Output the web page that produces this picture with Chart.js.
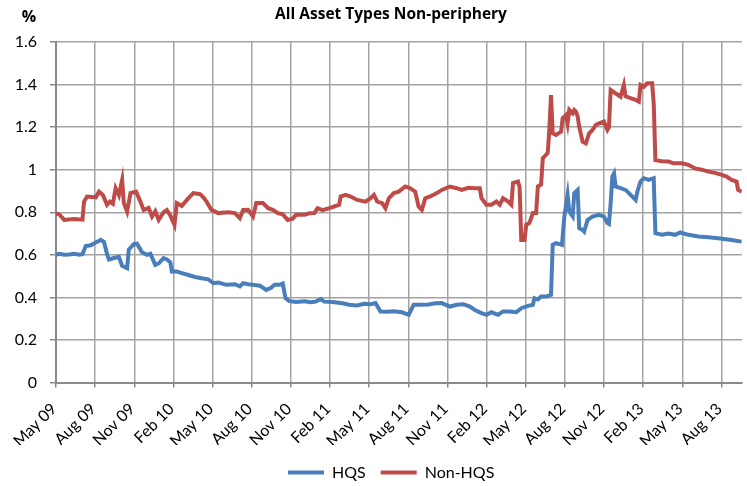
<!DOCTYPE html>
<html>
<head>
<meta charset="utf-8">
<script src="https://cdn.jsdelivr.net/npm/chart.js@4/dist/chart.umd.min.js"></script>
<style>
html,body{margin:0;padding:0;background:#ffffff;}
#wrap{position:relative;width:747px;height:486px;}
</style>
</head>
<body>
<div id="wrap"><canvas id="c"></canvas></div>
<script>
const chartTitle = 'All Asset Types Non-periphery';
const unitLabel = '%';
const seriesNames = ['HQS', 'Non-HQS'];

// x positions are months elapsed since the start of May 2009
const xTickMonths = [0,3,6,9,12,15,18,21,24,27,30,33,36,39,42,45,48,51];
const xTickLabels = ['May 09','Aug 09','Nov 09','Feb 10','May 10','Aug 10','Nov 10','Feb 11','May 11','Aug 11','Nov 11','Feb 12','May 12','Aug 12','Nov 12','Feb 13','May 13','Aug 13'];
const yTickValues = [0,0.2,0.4,0.6,0.8,1.0,1.2,1.4,1.6];
const yTickLabels = ['0','0.2','0.4','0.6','0.8','1','1.2','1.4','1.6'];

const hqsMonths = [0,0.25,0.63,1.01,1.39,1.77,2.03,2.28,2.66,3.05,3.43,3.68,3.93,4.06,4.44,4.82,5.07,5.45,5.58,5.96,6.21,6.59,6.97,7.23,7.61,7.87,8.25,8.50,8.76,8.88,9.26,9.64,10.15,10.66,11.16,11.67,12.05,12.43,13.07,13.71,14.09,14.34,14.72,15.23,15.63,16.11,16.49,16.75,17.13,17.38,17.59,17.89,18.40,19.04,19.54,19.90,20.30,20.56,21.19,21.95,22.46,23.09,23.60,24.11,24.49,24.87,25.38,25.89,26.52,27.03,27.41,27.79,28.55,29.06,29.57,30.20,30.71,31.22,31.72,32.10,32.61,32.99,33.37,33.88,34.26,34.77,35.28,35.66,36.17,36.55,36.67,36.93,37.18,37.56,37.94,38.07,38.32,38.78,38.96,39.21,39.34,39.60,39.72,39.98,40.10,40.36,40.48,40.74,41.12,41.62,42.00,42.26,42.38,42.51,42.64,42.77,42.89,43.27,43.65,43.91,44.29,44.42,44.57,44.80,45.05,45.43,45.81,45.94,46.45,46.95,47.46,47.84,48.47,49.23,50.00,50.76,51.78,52.56];
const hqsValues = [0.600,0.605,0.600,0.602,0.605,0.600,0.603,0.641,0.645,0.658,0.670,0.660,0.600,0.578,0.585,0.590,0.548,0.537,0.625,0.650,0.652,0.612,0.600,0.605,0.553,0.560,0.584,0.578,0.565,0.521,0.521,0.514,0.505,0.496,0.490,0.485,0.467,0.470,0.459,0.462,0.452,0.467,0.462,0.458,0.455,0.435,0.445,0.459,0.459,0.465,0.396,0.382,0.378,0.382,0.377,0.380,0.392,0.380,0.378,0.372,0.365,0.362,0.370,0.368,0.373,0.334,0.333,0.335,0.330,0.318,0.365,0.365,0.367,0.372,0.373,0.357,0.365,0.368,0.357,0.341,0.326,0.318,0.330,0.318,0.334,0.334,0.330,0.349,0.360,0.365,0.396,0.390,0.404,0.404,0.412,0.647,0.655,0.647,0.780,0.882,0.803,0.780,0.890,0.905,0.725,0.717,0.709,0.764,0.780,0.788,0.780,0.749,0.745,0.843,0.968,0.983,0.921,0.913,0.905,0.890,0.866,0.858,0.900,0.944,0.960,0.952,0.960,0.702,0.694,0.700,0.694,0.705,0.694,0.686,0.682,0.678,0.670,0.662];

const nonHqsMonths = [0,0.25,0.63,1.39,2.03,2.15,2.38,3.05,3.30,3.60,3.91,4.13,4.36,4.57,4.82,5.07,5.20,5.45,5.71,6.14,6.47,6.72,7.10,7.36,7.61,7.87,8.25,8.50,8.76,9.08,9.26,9.64,10.15,10.53,11.04,11.29,11.54,11.92,12.43,13.20,13.71,14.09,14.34,14.72,15.10,15.35,15.86,16.24,16.62,17.00,17.38,17.76,18.14,18.40,19.04,19.42,19.80,20.05,20.43,20.94,21.32,21.70,21.82,22.20,22.58,23.09,23.73,24.11,24.37,24.62,25.00,25.25,25.51,25.89,26.27,26.77,27.15,27.53,27.79,28.04,28.30,28.68,29.19,29.57,30.20,30.71,31.09,31.60,32.10,32.48,32.61,32.99,33.37,33.75,34.01,34.26,34.65,34.90,35.03,35.41,35.53,35.66,35.91,36.04,36.29,36.55,36.80,36.93,37.18,37.31,37.56,37.69,37.81,37.94,38.07,38.32,38.71,38.83,39.09,39.21,39.34,39.60,39.72,39.85,39.98,40.10,40.36,40.61,40.86,41.12,41.37,41.62,42.00,42.26,42.38,42.51,42.89,43.27,43.52,43.65,44.03,44.42,44.67,44.80,45.05,45.31,45.69,45.81,45.94,46.45,46.95,47.33,47.97,48.47,48.98,49.49,50.00,50.51,51.02,51.40,51.78,52.16,52.28,52.56];
const nonHqsValues = [0.795,0.790,0.764,0.768,0.765,0.850,0.874,0.870,0.897,0.880,0.835,0.850,0.840,0.913,0.880,0.952,0.843,0.803,0.890,0.897,0.850,0.810,0.820,0.780,0.805,0.764,0.800,0.810,0.785,0.741,0.843,0.830,0.866,0.890,0.885,0.870,0.850,0.811,0.796,0.800,0.796,0.772,0.811,0.812,0.780,0.843,0.843,0.820,0.811,0.796,0.790,0.764,0.770,0.788,0.788,0.795,0.796,0.819,0.810,0.819,0.827,0.835,0.874,0.882,0.874,0.858,0.850,0.866,0.882,0.850,0.843,0.819,0.866,0.890,0.897,0.921,0.913,0.897,0.827,0.811,0.866,0.874,0.890,0.905,0.921,0.913,0.905,0.915,0.913,0.913,0.866,0.835,0.835,0.850,0.835,0.866,0.850,0.835,0.937,0.944,0.920,0.670,0.670,0.741,0.750,0.796,0.796,0.921,0.930,1.054,1.070,1.080,1.187,1.351,1.171,1.163,1.179,1.242,1.257,1.218,1.281,1.265,1.280,1.273,1.250,1.202,1.132,1.124,1.171,1.187,1.210,1.218,1.226,1.187,1.200,1.375,1.359,1.343,1.398,1.345,1.336,1.328,1.320,1.398,1.390,1.406,1.406,1.312,1.045,1.040,1.038,1.030,1.030,1.023,1.006,1.000,0.991,0.985,0.976,0.968,0.952,0.944,0.905,0.897];

const FONT = 'Lato, "Open Sans", sans-serif';
const TITLE_FONT = '"Open Sans", Lato, sans-serif';
const TITLE_CENTER_X = 391;
const LEGEND_LEFT_X = 288;
const LEGEND_CENTER_Y = 472.5;

function toPoints(xs, ys) { return xs.map((x, i) => ({x: x, y: ys[i]})); }

const placement = {
  id: 'placement',
  afterLayout(chart) {
    const t = chart.titleBlock;
    if (t) {
      const w = chart.width;
      t.left = TITLE_CENTER_X - w / 2;
      t.right = TITLE_CENTER_X + w / 2;
    }
    const l = chart.legend;
    if (l) {
      const pad = l.options.labels.padding;
      const fs = l.options.labels.font.size;
      const h = l.bottom - l.top;
      l.left = LEGEND_LEFT_X - pad;
      l.top = LEGEND_CENTER_Y - pad - fs / 2;
      l.bottom = l.top + h;
    }
  },
  afterDraw(chart) {
    const ctx = chart.ctx;
    ctx.save();
    ctx.font = 'bold 16px ' + TITLE_FONT;
    ctx.fillStyle = '#000000';
    ctx.textAlign = 'center';
    ctx.textBaseline = 'middle';
    ctx.fillText(unitLabel, 29, 17.5);
    ctx.restore();
  }
};

new Chart(document.getElementById('c'), {
  type: 'line',
  data: {
    datasets: [
      { label: seriesNames[0], data: toPoints(hqsMonths, hqsValues), borderColor: '#4A7EBB', backgroundColor: '#4A7EBB', borderWidth: 4, pointRadius: 0, tension: 0, fill: false },
      { label: seriesNames[1], data: toPoints(nonHqsMonths, nonHqsValues), borderColor: '#BE4B48', backgroundColor: '#BE4B48', borderWidth: 4, pointRadius: 0, tension: 0, fill: false }
    ]
  },
  options: {
    responsive: true,
    maintainAspectRatio: false,
    animation: false,
    devicePixelRatio: 1,
    layout: { padding: { left: 0, right: 0, top: 0, bottom: 0 } },
    scales: {
      x: {
        type: 'linear', min: 0, max: 52.56,
        afterBuildTicks: s => { s.ticks = xTickMonths.map(v => ({value: v})); },
        afterFit: s => { s.height = 62.5; },
        ticks: { autoSkip: false, minRotation: 45, maxRotation: 45, padding: 12, labelOffset: -2,
          color: '#000000', font: { family: FONT, size: 16 },
          callback: (v, i) => xTickLabels[i] },
        grid: { color: '#a3a3a3', lineWidth: 1.5, drawTicks: true, tickLength: 5, tickColor: '#8a8a8a' },
        border: { display: true, color: '#8a8a8a', width: 2 }
      },
      y: {
        min: 0, max: 1.6,
        afterBuildTicks: s => { s.ticks = yTickValues.map(v => ({value: v})); },
        afterFit: s => { s.width = 56; },
        ticks: { padding: 13, color: '#000000', font: { family: FONT, size: 16 },
          callback: (v, i) => yTickLabels[i] },
        grid: { color: '#a3a3a3', lineWidth: 1.5, drawTicks: true, tickLength: 6, tickColor: '#8a8a8a' },
        border: { display: true, color: '#8a8a8a', width: 2 }
      }
    },
    plugins: {
      title: { display: true, text: chartTitle, color: '#000000',
        font: { family: TITLE_FONT, size: 15.5, weight: 'bold' }, padding: { top: 5.7, bottom: 17.7 } },
      legend: { display: true, position: 'bottom', align: 'start',
        labels: { usePointStyle: true, pointStyle: 'line', pointStyleWidth: 36, padding: 15,
          color: '#000000', font: { family: FONT, size: 16 } } },
      tooltip: { enabled: false }
    }
  },
  plugins: [placement]
});
</script>
</body>
</html>
